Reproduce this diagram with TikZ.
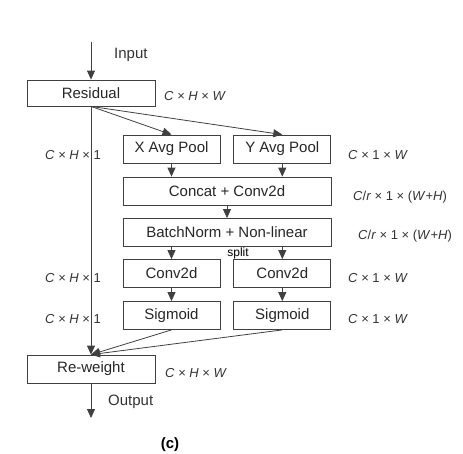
\documentclass[tikz,border=0pt]{standalone}
\usepackage{fontspec}
\setmainfont{Liberation Sans}
\usepackage{tikz}
\usetikzlibrary{arrows.meta,positioning}

\begin{document}
\begin{tikzpicture}[
  x=1pt,y=-1pt,
  node distance=13pt and 13pt,
  box/.style={draw=black!75,line width=0.8pt,minimum width=97pt,minimum height=28pt,
              inner sep=0pt,font=\fontsize{15}{17}\selectfont,text=black!85},
  widebox/.style={box,minimum width=208pt},
  dimlabel/.style={anchor=west,inner sep=0pt,font=\fontsize{13}{15}\selectfont,text=black!80},
  flow/.style={-{Triangle[length=9pt,width=8pt]},draw=black!75,line width=0.8pt}
]
\useasboundingbox (0,0) rectangle (463,453);
% main column
\coordinate (in) at (91,42);
\node[box,minimum width=128pt,minimum height=26pt] (res) at (91,93) {Residual};
\node[box] (xpool) at (171.5,149) {X Avg Pool};
\node[box,right=13pt of xpool] (ypool) {Y Avg Pool};
\node[widebox] (concat) at (227,191) {Concat + Conv2d};
\node[widebox] (bn) at (227,232.5) {BatchNorm + Non-linear};
\node[box] (convl) at (171.5,273.5) {Conv2d};
\node[box,right=13pt of convl] (convr) {Conv2d};
\node[box] (sigl) at (171.5,315.5) {Sigmoid};
\node[box,right=13pt of sigl] (sigr) {Sigmoid};
\node[box,minimum width=128pt] (rew) at (91,369) {Re-weight};
\coordinate (out) at (91,418);

\draw[flow] (in) -- (res.north);
\draw[flow] (res.south) -- (rew.north);
\draw[flow] (res.south) -- (xpool.north);
\draw[flow] (res.south) -- (ypool.north);
\draw[flow] (xpool.south) -- (xpool.south |- concat.north);
\draw[flow] (ypool.south) -- (ypool.south |- concat.north);
\draw[flow] (concat.south) -- (bn.north);
\draw[flow] (convl.north |- bn.south) -- (convl.north);
\draw[flow] (convr.north |- bn.south) -- (convr.north);
\draw[flow] (convl) -- (sigl);
\draw[flow] (convr) -- (sigr);
\draw[flow] (sigl.south) -- (rew.north);
\draw[flow] (sigr.south) -- (rew.north);
\draw[flow] (rew.south) -- (out);

% labels
\node[dimlabel,font=\fontsize{15}{17}\selectfont] (lin) at (114,55) {Input};
\node[dimlabel,font=\fontsize{15}{17}\selectfont] (lout) at (108,402) {Output};
\node[font=\fontsize{12}{14}\selectfont,inner sep=0pt] (lsplit) at (238,253) {split};
\node[dimlabel] at (164,96) {\textit{C} × \textit{H} × \textit{W}};
\node[dimlabel] at (45,155) {\textit{C} × \textit{H} × 1};
\node[dimlabel] at (348,155) {\textit{C} × 1 × \textit{W}};
\node[dimlabel] at (353,197) {\textit{C}/\textit{r} × 1 × (\textit{W}+\textit{H})};
\node[dimlabel] at (358,236) {\textit{C}/\textit{r} × 1 × (\textit{W}+\textit{H})};
\node[dimlabel] at (45,278) {\textit{C} × \textit{H} × 1};
\node[dimlabel] at (348,278) {\textit{C} × 1 × \textit{W}};
\node[dimlabel] at (45,319) {\textit{C} × \textit{H} × 1};
\node[dimlabel] at (348,319) {\textit{C} × 1 × \textit{W}};
\node[dimlabel] at (165,373) {\textit{C} × \textit{H} × \textit{W}};
\node[font=\fontsize{15}{17}\selectfont\bfseries] (cap) at (170,445) {(c)};
\end{tikzpicture}
\end{document}
